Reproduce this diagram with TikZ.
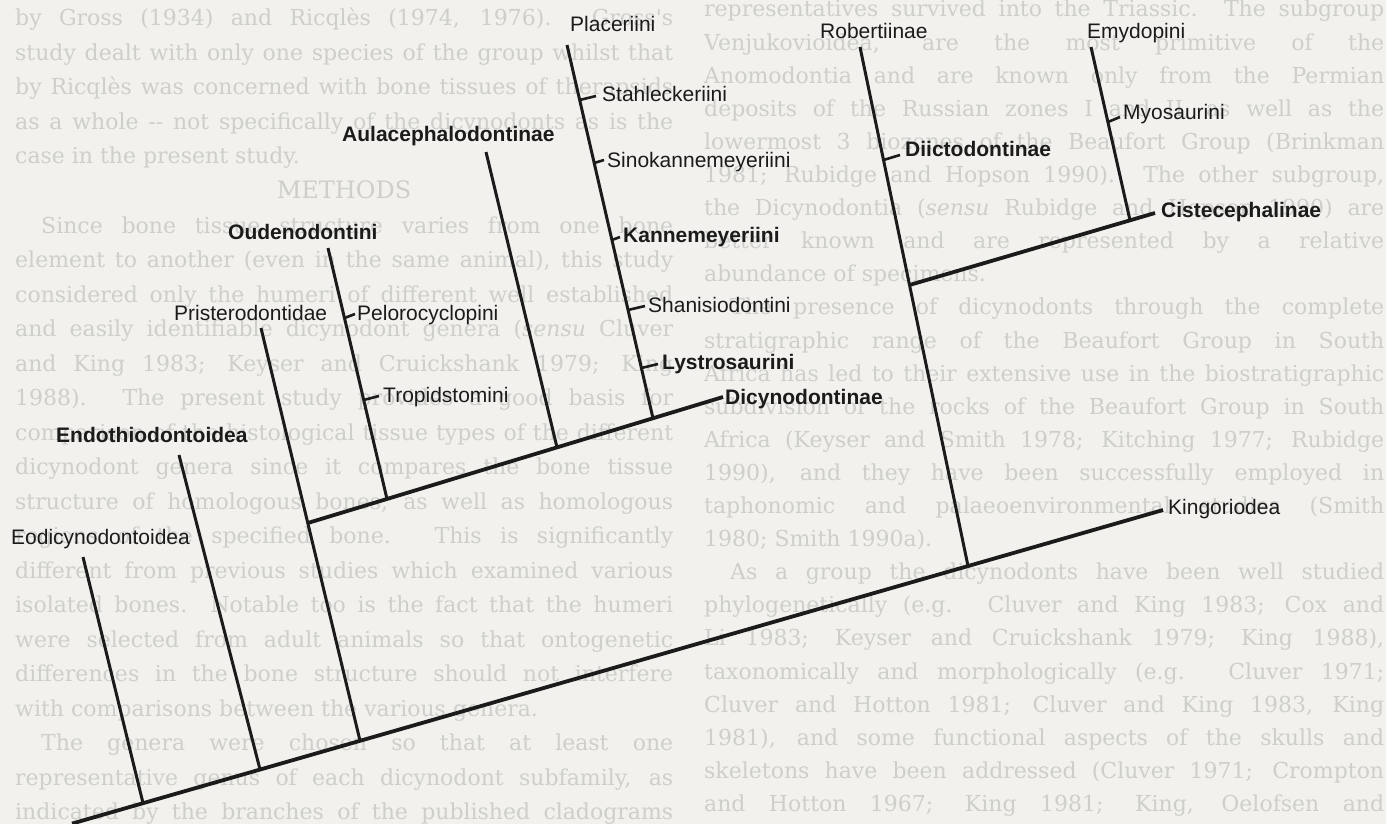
\documentclass[tikz,border=0pt]{standalone}
\usepackage{fontspec}
\usepackage{graphicx}
\setmainfont{Liberation Sans}
\newfontfamily\bgfont{DejaVu Serif}
\definecolor{paper}{RGB}{242,241,237}
\definecolor{ghost}{RGB}{206,206,202}
\definecolor{ink}{RGB}{28,27,27}
\tikzset{
  lab/.style={anchor=base west, inner sep=0pt, text=ink, font=\fontsize{21}{24}\selectfont},
  blab/.style={anchor=base west, inner sep=0pt, text=ink, font=\fontsize{21}{24}\selectfont\bfseries},
  stem/.style={draw=ink, line width=3pt},
  trunk/.style={draw=ink, line width=3.8pt},
  tickline/.style={draw=ink, line width=2.6pt},
  bgtext/.style={anchor=base west, inner sep=0pt, text=ghost, font=\bgfont\fontsize{22}{26}\selectfont},
}
\newsavebox\ghbox
\newcommand\fitto[2]{\sbox\ghbox{#2}\ifdim\wd\ghbox>#1\relax\pgfmathsetmacro\ghscale{#1/\wd\ghbox}\scalebox{\ghscale}[1]{\usebox\ghbox}\else\makebox[#1][s]{#2}\fi}
\newcommand\ghL[2]{\node[bgtext] at (15,{26+34.5*#1}) {\fitto{658pt}{#2}};}
\newcommand\ghLr[2]{\node[bgtext] at (15,{26+34.5*#1}) {#2};}
\newcommand\ghR[2]{\node[bgtext] at (704,{17+33.1*#1}) {\fitto{680pt}{#2}};}
\newcommand\ghRr[2]{\node[bgtext] at (704,{17+33.1*#1}) {#2};}
\begin{document}
\begin{tikzpicture}[x=1pt,y=-1pt]
\useasboundingbox (0,0) rectangle (1386,824);
\fill[paper] (0,0) rectangle (1386,824);
% ---------- faint page text ----------
\ghL{0}{by Gross (1934) and Ricqlès (1974, 1976). Gross's}
\ghL{1}{study dealt with only one species of the group whilst that}
\ghL{2}{by Ricqlès was concerned with bone tissues of therapsids}
\ghL{3}{as a whole -- not specifically of the dicynodonts as is the}
\ghLr{4}{case in the present study.}
\node[bgtext, anchor=base] at (344,{26+34.5*5}) {\fontsize{24}{28}\selectfont METHODS};
\ghL{6}{\hspace*{26pt}Since bone tissue structure varies from one bone}
\ghL{7}{element to another (even in the same animal), this study}
\ghL{8}{considered only the humeri of different well established}
\ghL{9}{and easily identifiable dicynodont genera (\textit{sensu} Cluver}
\ghL{10}{and King 1983; Keyser and Cruickshank 1979; King}
\ghL{11}{1988). The present study provides a good basis for}
\ghL{12}{comparison of the histological tissue types of the different}
\ghL{13}{dicynodont genera since it compares the bone tissue}
\ghL{14}{structure of homologous bones, as well as homologous}
\ghL{15}{regions of the specified bone. This is significantly}
\ghL{16}{different from previous studies which examined various}
\ghL{17}{isolated bones. Notable too is the fact that the humeri}
\ghL{18}{were selected from adult animals so that ontogenetic}
\ghL{19}{differences in the bone structure should not interfere}
\ghLr{20}{with comparisons between the various genera.}
\ghL{21}{\hspace*{26pt}The genera were chosen so that at least one}
\ghL{22}{representative genus of each dicynodont subfamily, as}
\ghL{23}{indicated by the branches of the published cladograms}
\ghR{0}{representatives survived into the Triassic. The subgroup}
\ghR{1}{Venjukovioidea, are the most primitive of the}
\ghR{2}{Anomodontia and are known only from the Permian}
\ghR{3}{deposits of the Russian zones I and II, as well as the}
\ghR{4}{lowermost 3 biozones of the Beaufort Group (Brinkman}
\ghR{5}{1981; Rubidge and Hopson 1990). The other subgroup,}
\ghR{6}{the Dicynodontia (\textit{sensu} Rubidge and Hopson 1990) are}
\ghR{7}{better known and are represented by a relative}
\ghRr{8}{abundance of specimens.}
\ghR{9}{\hspace*{26pt}The presence of dicynodonts through the complete}
\ghR{10}{stratigraphic range of the Beaufort Group in South}
\ghR{11}{Africa has led to their extensive use in the biostratigraphic}
\ghR{12}{subdivision of the rocks of the Beaufort Group in South}
\ghR{13}{Africa (Keyser and Smith 1978; Kitching 1977; Rubidge}
\ghR{14}{1990), and they have been successfully employed in}
\ghR{15}{taphonomic and palaeoenvironmental studies (Smith}
\ghRr{16}{1980; Smith 1990a).}
\ghR{17}{\hspace*{26pt}As a group the dicynodonts have been well studied}
\ghR{18}{phylogenetically (e.g. Cluver and King 1983; Cox and}
\ghR{19}{Li 1983; Keyser and Cruickshank 1979; King 1988),}
\ghR{20}{taxonomically and morphologically (e.g. Cluver 1971;}
\ghR{21}{Cluver and Hotton 1981; Cluver and King 1983, King}
\ghR{22}{1981), and some functional aspects of the skulls and}
\ghR{23}{skeletons have been addressed (Cluver 1971; Crompton}
\ghR{24}{and Hotton 1967; King 1981; King, Oelofsen and}
% ---------- labels ----------
\node[lab]  (placer) at (570,32)  {Placeriini};
\node[lab]  (stahl)  at (602,102) {Stahleckeriini};
\node[blab] (aulac)  at (342,142) {Aulacephalodontinae};
\node[lab]  (sinok)  at (607,167) {Sinokannemeyeriini};
\node[blab] (oudeno) at (228,239) {Oudenodontini};
\node[blab] (kanne)  at (623,242) {Kannemeyeriini};
\node[lab]  (prist)  at (174,320) {Pristerodontidae};
\node[lab]  (pelor)  at (357,320) {Pelorocyclopini};
\node[lab]  (shani)  at (648,312) {Shanisiodontini};
\node[blab] (lystro) at (662,369) {Lystrosaurini};
\node[lab]  (tropid) at (383,402) {Tropidstomini};
\node[blab] (dicyn)  at (725,404) {Dicynodontinae};
\node[blab] (endoth) at (56,442)  {Endothiodontoidea};
\node[lab]  (eodicy) at (11,544)  {Eodicynodontoidea};
\node[lab]  (robert) at (820,39)  {Robertiinae};
\node[lab]  (emydo)  at (1087,39) {Emydopini};
\node[lab]  (myosa)  at (1123,120) {Myosaurini};
\node[blab] (diicto) at (905,157) {Diictodontinae};
\node[blab] (ciste)  at (1161,217) {Cistecephalinae};
\node[lab]  (kingo)  at (1168,514) {Kingoriodea};
% ---------- tree points ----------
\coordinate (b0)   at (72,823.6);
\coordinate (bEo)  at (143,803);
\coordinate (bEn)  at (260,769.4);
\coordinate (bPr)  at (360,740.7);
\coordinate (bRo)  at (968,566);
\coordinate (kEnd) at (1163,510);
\coordinate (tEo)  at (83,557);
\coordinate (tEn)  at (179,455);
\coordinate (tPr)  at (261,328);
\coordinate (jPr)  at (307.8,523);
\coordinate (dEnd) at (723,397);
\coordinate (tOu)  at (328,248);
\coordinate (bOu)  at (387,499);
\coordinate (tAu)  at (486,152);
\coordinate (bAu)  at (557,447.4);
\coordinate (tPl)  at (567,45);
\coordinate (bPl)  at (653,418.3);
\coordinate (tRo)  at (860,47);
\coordinate (jRo)  at (909.5,285);
\coordinate (cEnd) at (1155,213);
\coordinate (tEm)  at (1091,47);
\coordinate (bEm)  at (1130,220.3);
% ---------- tree lines ----------
\draw[trunk] (b0) -- (kEnd);
\draw[trunk] (jPr) -- (dEnd);
\draw[trunk] (jRo) -- (cEnd);
\draw[stem] (bEo) -- (tEo);
\draw[stem] (bEn) -- (tEn);
\draw[stem] (bPr) -- (tPr);
\draw[stem] (bOu) -- (tOu);
\draw[stem] (bAu) -- (tAu);
\draw[stem] (bPl) -- (tPl);
\draw[stem] (bRo) -- (tRo);
\draw[stem] (bEm) -- (tEm);
% ---------- ticks ----------
\draw[tickline] (579.7,100) -- (596,96);
\draw[tickline] (594.2,163) -- (604,160);
\draw[tickline] (612,240) -- (620,237);
\draw[tickline] (628,310) -- (645,306);
\draw[tickline] (641.5,368) -- (658,364);
\draw[tickline] (344.5,318) -- (355,314);
\draw[tickline] (363.7,400) -- (379,396);
\draw[tickline] (883.5,160) -- (900,155);
\draw[tickline] (1108,122) -- (1120,117);
\end{tikzpicture}
\end{document}
